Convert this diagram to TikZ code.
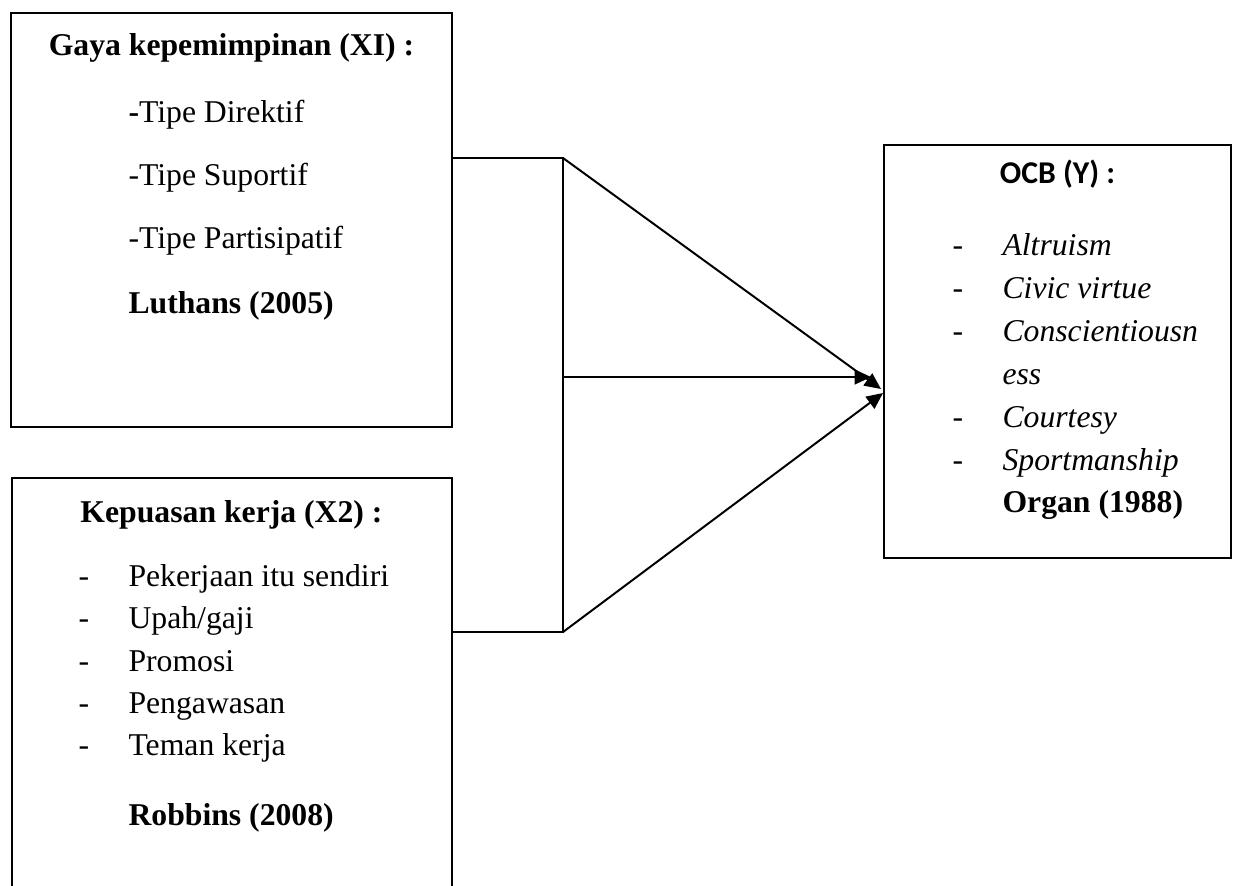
\documentclass[tikz,border=0pt]{standalone}
\usepackage{fontspec}
\setmainfont{Liberation Serif}
\newfontfamily\calib{Carlito}
\usetikzlibrary{arrows.meta}
\begin{document}
\begin{tikzpicture}[x=0.3785pt,y=-0.3785pt,
  boxst/.style={draw, line width=0.75pt, inner sep=0pt},
  txt/.style={inner sep=0pt, font=\fontsize{12}{14}\selectfont},
  tl/.style={txt, anchor=base west},
  tc/.style={txt, anchor=base},
  conn/.style={line width=0.75pt},
  arr/.style={conn, -{Triangle[length=6.2pt,width=5.6pt]}}]
\useasboundingbox (0,0) rectangle (1235,885);
% boxes
\node[boxst, minimum width=441*0.3785pt, minimum height=414*0.3785pt] (b1) at (231.5,220) {};
\node[boxst, minimum width=440*0.3785pt, minimum height=424*0.3785pt] (b2) at (232,690) {};
\node[boxst, minimum width=347*0.3785pt, minimum height=413*0.3785pt] (b3) at (1057.5,351.5) {};
% box 1 text
\node[tc] (t1) at (231.5,55) {\textbf{Gaya kepemimpinan (XI) :}};
\node[tl] (t1a) at (128,122) {\textbf{-}Tipe Direktif};
\node[tl] (t1b) at (128,185) {-Tipe Suportif};
\node[tl] (t1c) at (128,248) {-Tipe Partisipatif};
\node[tl] (t1d) at (128,313) {\textbf{Luthans (2005)}};
% box 2 text
\node[tc] (t2) at (231.5,522) {\textbf{Kepuasan kerja (X2) :}};
\foreach \n/\yy/\s in {a/586/Pekerjaan itu sendiri, b/628/Upah\slash gaji, c/671/Promosi, d/713/Pengawasan, e/755/Teman kerja}{
  \node[tl] (d2\n) at (78,\yy) {-};
  \node[tl] (t2\n) at (128,\yy) {\s};
}
\node[tl] (t2f) at (128,825) {\textbf{Robbins (2008)}};
% box 3 text
\node[tc] (t3) at (1057.5,183) {\calib\bfseries OCB (Y) :};
\foreach \n/\yy/\s in {a/255/Altruism, b/298/Civic virtue, c/341/Conscientiousn, e/427/Courtesy, f/470/Sportmanship}{
  \node[tl] (d3\n) at (952,\yy) {-};
  \node[tl] (t3\n) at (1002,\yy) {\itshape \s};
}
\node[tl] (t3d) at (1002,384) {\itshape ess};
\node[tl] (t3g) at (1002,512) {\textbf{Organ (1988)}};
% connectors
\coordinate (j1) at (563,158);
\coordinate (jm) at (563,377);
\coordinate (j2) at (563,632);
\coordinate (e1) at (881,389);
\coordinate (em) at (871,377);
\coordinate (e2) at (883,393);
\draw[conn] (j1 -| b1.east) -- (j1) -- (jm) -- (j2) -- (j2 -| b2.east);
\draw[arr] (j1) -- (e1);
\draw[arr] (jm) -- (em);
\draw[arr] (j2) -- (e2);
\end{tikzpicture}
\end{document}
